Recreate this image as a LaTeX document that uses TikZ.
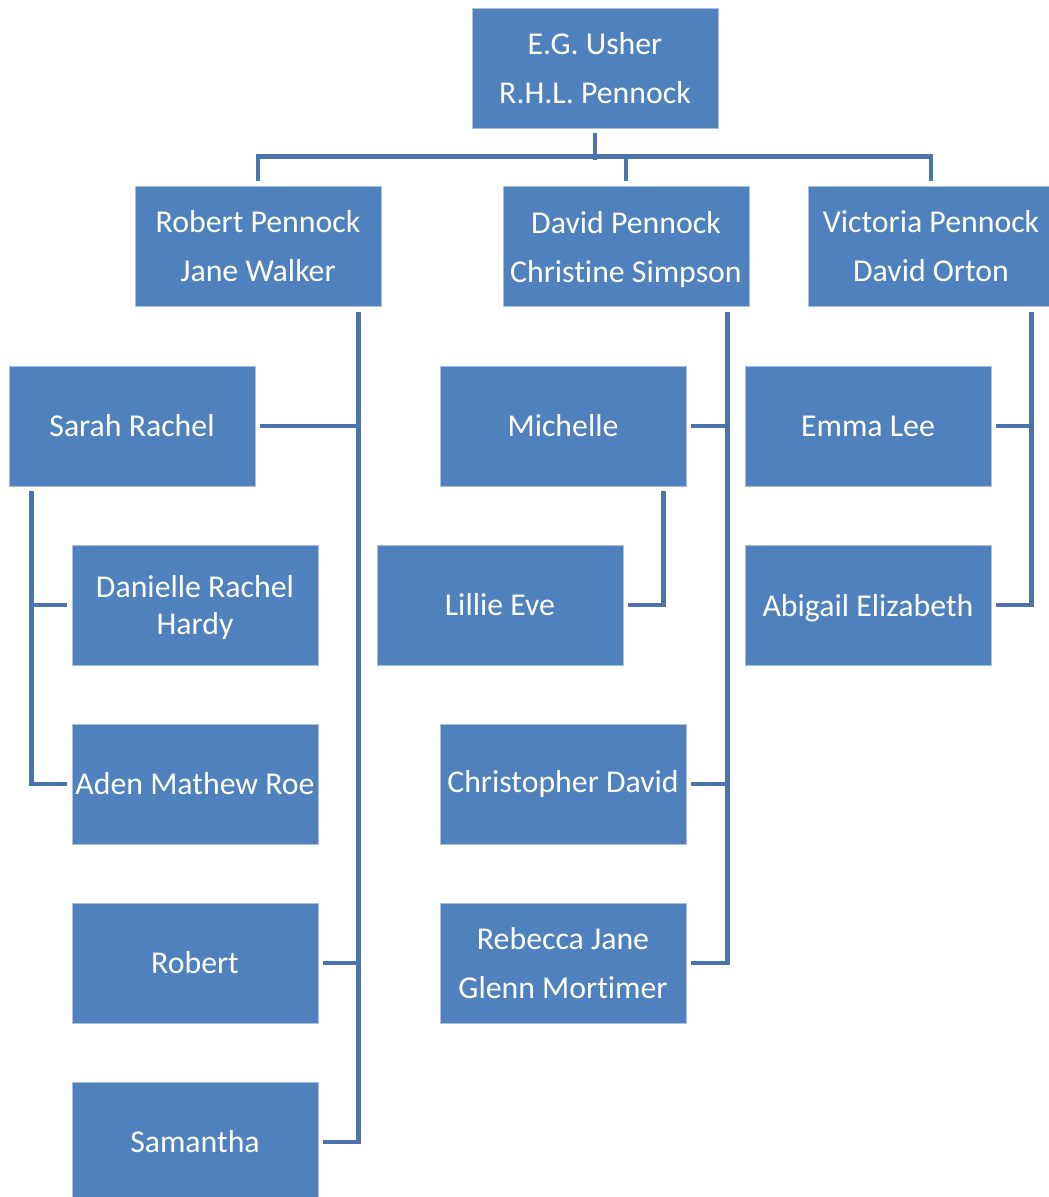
\documentclass[tikz,border=0pt]{standalone}
\usepackage{fontspec}
\setmainfont[Ligatures=NoCommon]{Carlito}
\usetikzlibrary{calc}
\definecolor{boxfill}{RGB}{79,129,189}
\definecolor{boxedge}{RGB}{167,191,222}
\definecolor{linkcol}{RGB}{74,116,170}
% a line whose descenders do not move the text block
\newcommand{\nodepth}[1]{\raisebox{0pt}[\height][0pt]{#1}}
\begin{document}
\begin{tikzpicture}[x=1pt,y=-1pt,
  person/.style={rectangle,fill=boxfill,draw=boxedge,line width=0.8pt,
    minimum width=246pt,minimum height=120pt,inner sep=0pt,
    text=white,align=center,font=\fontsize{31.8}{37}\selectfont},
  link/.style={draw=linkcol,line width=4.5pt,line cap=rect,line join=miter}]
\clip (0,0) rectangle (1049,1197);

% generation 1
\node[person] (top) at (595,68) {E.G. Usher\\[12pt]R.H.L. Pennock};

% generation 2
\node[person] (rp) at (258,246.5) {Robert Pennock\\[12pt]Jane Walker};
\node[person] (dp) at (626,246.5) {David Pennock\\[12pt]\nodepth{Christine Simpson}};
\node[person] (vp) at (931,246.5) {Victoria Pennock\\[12pt]David Orton};

% children of Robert and Jane
\node[person] (sarah) at (132,426) {Sarah Rachel};
\node[person] (rob) at (195,963) {Robert};
\node[person] (sam) at (195,1142) {Samantha};
% children of Sarah
\node[person] (dan) at (195,605) {Danielle Rachel\\\nodepth{Hardy}};
\node[person] (aden) at (195,784) {Aden Mathew Roe};

% children of David and Christine
\node[person] (mich) at (563,426) {Michelle};
\node[person] (chris) at (563,784) {Christopher David};
\node[person] (reb) at (563,963) {Rebecca Jane\\[12pt]Glenn Mortimer};
% child of Michelle
\node[person] (lil) at (500,605) {Lillie Eve};

% children of Victoria and David
\node[person] (emma) at (868,426) {Emma Lee};
\node[person] (abi) at (868,605) {\nodepth{Abigail Elizabeth}};

% top-level bracket
\draw[link] ($(top.south)+(0,7)$) -- ($(top.south)+(0,29)$);
\draw[link] ($(rp.north)+(0,-7)$) |- ($(vp.north)+(0,-29.5)$) -- ($(vp.north)+(0,-7)$);
\draw[link] ($(dp.north)+(0,-7)$) -- ($(dp.north)+(0,-29.5)$);

% Robert's family line
\coordinate (rl) at ($(rp.south east)+(-23,7)$);
\draw[link] (rl) |- ($(sam.east)+(7,0)$);
\draw[link] ($(sarah.east)+(7,0)$) -- (sarah.east -| rl);
\draw[link] ($(rob.east)+(7,0)$) -- (rob.east -| rl);

% Sarah's family line
\coordinate (sl) at ($(sarah.south west)+(23,7)$);
\draw[link] (sl) |- ($(aden.west)+(-7,0)$);
\draw[link] ($(dan.west)+(-7,0)$) -- (dan.west -| sl);

% David's family line
\coordinate (dl) at ($(dp.south east)+(-22,7)$);
\draw[link] (dl) |- ($(reb.east)+(7,0)$);
\draw[link] ($(mich.east)+(7,0)$) -- (mich.east -| dl);
\draw[link] ($(chris.east)+(7,0)$) -- (chris.east -| dl);

% Michelle's family line
\coordinate (ml) at ($(mich.south east)+(-23,7)$);
\draw[link] (ml) |- ($(lil.east)+(7,0)$);

% Victoria's family line
\coordinate (vl) at ($(vp.south east)+(-23,7)$);
\draw[link] (vl) |- ($(abi.east)+(7,0)$);
\draw[link] ($(emma.east)+(7,0)$) -- (emma.east -| vl);
\end{tikzpicture}
\end{document}
